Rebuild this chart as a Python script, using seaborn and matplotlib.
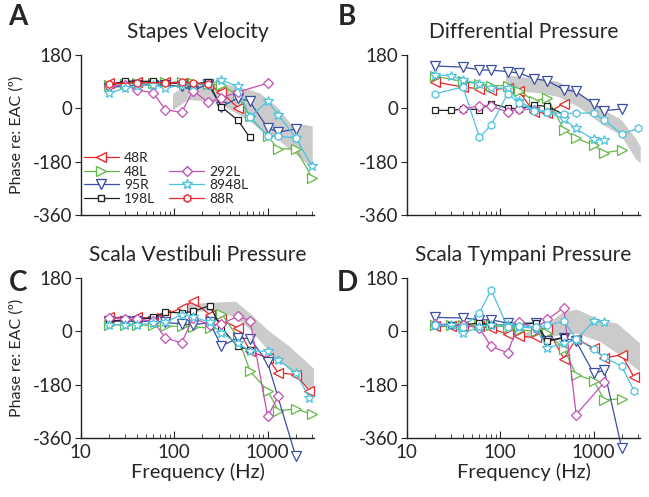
import matplotlib
matplotlib.use('Agg')
import matplotlib.pyplot as plt
from matplotlib.lines import Line2D
import seaborn as sns

sns.set_style('ticks')
plt.rcParams['font.family'] = ['Lato', 'DejaVu Sans']
plt.rcParams['axes.unicode_minus'] = False

# --- data (frequency in Hz, phase in degrees) ---
titles = ['Stapes Velocity', 'Differential Pressure',
          'Scala Vestibuli Pressure', 'Scala Tympani Pressure']
letters = ['A', 'B', 'C', 'D']
ear_names = ['48R', '48L', '95R', '198L', '292L', '8948L', '88R']

# A: stapes velocity
stapes = {
    '48R':   ([20, 40, 80, 120, 230, 320, 480], [85, 88, 88, 85, 80, 55, 2]),
    '48L':   ([20, 30, 40, 60, 80, 120, 160, 230, 320, 480, 640, 1000, 1300, 2000, 3000],
              [80, 83, 85, 85, 88, 88, 85, 83, 78, 45, -27, -94, -137, -137, -234]),
    '95R':   ([20, 30, 40, 60, 80, 120, 160, 230, 320, 480, 640, 1000, 1300, 2000],
              [70, 75, 78, 80, 78, 75, 60, 82, 5, 35, 24, -66, -80, -70]),
    '198L':  ([20, 30, 60, 80, 120, 160, 230, 320, 480, 640],
              [78, 92, 91, 85, 85, 82, 88, 5, -40, -97]),
    '292L':  ([20, 30, 40, 60, 80, 120, 160, 230, 320, 480, 1000],
              [75, 78, 62, 52, -4, -14, 60, 20, 35, 55, 85]),
    '8948L': ([20, 30, 40, 60, 80, 120, 160, 230, 320, 480, 640, 1000, 1300, 2000, 3000],
              [52, 68, 74, 80, 68, 78, 80, 80, 95, 74, -30, 24, -21, -100, -195]),
    '88R':   ([20, 40, 80, 120, 160, 230], [82, 87, 86, 88, 85, 82]),
    'extra': ([640, 1000, 1300, 2000], [-30, -92, -94, -100]),
}
stapes_band_f = [96, 140, 290, 430, 650, 825, 1240, 1740, 2600, 3000]
stapes_band_hi = [50, 85, 85, 78, 62, 52, 7, -50, -55, -60]
stapes_band_lo = [-5, 30, 20, -10, -44, -70, -100, -140, -185, -195]

# B: differential pressure
diff = {
    '48R':   ([20, 40, 60, 80, 120, 160, 230, 320, 480],
              [89, 72, 66, 63, 68, 57, -13, -16, 16]),
    '48L':   ([20, 40, 60, 80, 120, 160, 230, 320, 480, 640, 1000, 1300, 2000],
              [108, 91, 82, 76, 77, 60, 24, 35, -72, -100, -124, -150, -141]),
    '95R':   ([20, 40, 60, 80, 120, 160, 230, 320, 480, 640, 1000, 1300, 2000],
              [143, 139, 130, 129, 124, 119, 100, 93, 63, 57, 16, -8, -2]),
    '198L':  ([20, 30, 40, 60, 80, 120, 160, 230, 320, 480],
              [-7, -7, -2, -4, 16, 1, -2, 10, 7, -21]),
    '292L':  ([40, 60, 80, 120, 160, 230], [-2, 9, 7, -12, -2, -4]),
    '8948L': ([20, 30, 40, 60, 80, 120, 160, 230, 320, 480, 640, 1000, 1300],
              [113, 110, 96, 83, 68, 68, 24, -4, -13, -35, -68, -105, -108]),
    'extra': ([20, 40, 60, 80, 120, 160, 230, 320, 480, 640, 1000, 1300, 2000, 3000],
              [49, 72, -98, -57, 49, 18, -10, -13, -18, -16, -16, -40, -86, -68]),
}
diff_band_f = [114, 270, 415, 690, 1250, 1950, 2800, 3150]
diff_band_hi = [113, 100, 91, 52, -3, -37, -100, -128]
diff_band_lo = [63, 52, 40, 5, -55, -90, -170, -184]

# C: scala vestibuli pressure
vest = {
    '48R':   ([20, 40, 60, 80, 120, 160, 240, 320, 480, 650, 1000, 1300, 2000, 2800],
              [47, 47, 45, 55, 79, 101, 56, 40, 11, -67, -90, -140, -146, -200]),
    '48L':   ([20, 30, 40, 60, 80, 120, 160, 240, 320, 480, 650, 1000, 1300, 2000, 3000],
              [22, 22, 22, 20, 17, 17, 15, 11, 60, -20, -135, -200, -268, -262, -280]),
    '95R':   ([20, 30, 40, 60, 80, 120, 160, 240, 320, 480, 650, 1000, 2000],
              [34, 34, 34, 34, 30, 25, 22, 30, -50, -22, -25, -105, -422]),
    '198L':  ([20, 30, 40, 60, 80, 120, 160, 240, 320, 480, 650],
              [34, 39, 39, 47, 65, 62, 67, 87, 11, -51, -62]),
    '292L':  ([20, 30, 40, 60, 80, 120, 160, 240, 320, 480, 650, 1000, 1300],
              [45, 42, 40, 35, -22, -39, 45, 22, 25, 51, 36, -287, -219]),
    '8948L': ([20, 30, 40, 60, 80, 120, 160, 240, 320, 480, 650, 1000, 1300, 2000, 2800],
              [22, 22, 22, 27, 30, 56, 50, 30, -6, -40, -67, -67, -96, -140, -225]),
}
vest_band_f = [120, 240, 450, 650, 1000, 1700, 3100]
vest_band_hi = [92, 98, 102, 60, 5, -50, -125]
vest_band_lo = [65, 70, 50, 6, -62, -129, -205]

# D: scala tympani pressure
tymp = {
    '48R':   ([20, 30, 40, 60, 80, 120, 160, 240, 320, 480, 650, 1000, 1300, 2000, 2700],
              [17, 17, 17, 17, 10, -10, -17, -20, 8, -92, -25, -56, -90, -79, -155]),
    '48L':   ([20, 30, 40, 60, 80, 120, 160, 240, 320, 480, 650, 1000, 1300, 2000],
              [22, 22, 22, 20, 20, 15, 5, 0, -6, -58, -146, -166, -231, -228]),
    '95R':   ([20, 40, 60, 80, 120, 240, 320, 480, 650, 1000, 1300, 2000],
              [47, 45, 39, 39, 28, 28, -34, -22, -34, -141, -132, -395]),
    '198L':  ([20, 30, 40, 60, 80, 120, 160, 240, 320, 480],
              [22, 22, 22, 28, 22, 20, 22, 28, -32, -20]),
    '292L':  ([20, 40, 60, 80, 120, 160, 240, 320, 480, 650, 1300],
              [25, 22, 11, -51, -72, 30, 10, 40, 80, -281, -172]),
    '8948L': ([20, 30, 40, 60, 80, 120, 160, 240, 320, 480, 650, 1000, 1300],
              [22, 20, -6, 15, 20, 20, 15, 10, -56, -40, -30, 35, 30]),
    'extra': ([20, 40, 60, 80, 120, 160, 240, 320, 480, 650, 1000, 1300, 2000, 2700],
              [20, 15, 62, 140, 15, 18, 15, 20, 35, -25, -60, -88, -118, -200]),
}
tymp_band_f = [105, 180, 300, 470, 660, 1170, 1770, 3100]
tymp_band_hi = [-2, -5, 20, 67, 75, 39, 28, -39]
tymp_band_lo = [-8, -22, -20, -10, -6, -34, -73, -135]

panels = [stapes, diff, vest, tymp]
bands = [(stapes_band_f, stapes_band_lo, stapes_band_hi),
         (diff_band_f, diff_band_lo, diff_band_hi),
         (vest_band_f, vest_band_lo, vest_band_hi),
         (tymp_band_f, tymp_band_lo, tymp_band_hi)]

colors = {'48R': '#e8262c', '48L': '#62b946', '95R': '#3b4ea3', '198L': '#222222',
          '292L': '#c350b4', '8948L': '#4cc3de', '88R': '#e8262c', 'extra': '#4cc3de'}
markers = {'48R': '<', '48L': '>', '95R': 'v', '198L': 's', '292L': 'D',
           '8948L': '*', '88R': 'h', 'extra': 'h'}
msizes = {'48R': 6.5, '48L': 6.5, '95R': 6.5, '198L': 5, '292L': 5.5,
          '8948L': 7.5, '88R': 5.5, 'extra': 5.5}

# --- figure ---
W, H = 649, 497
fig = plt.figure(figsize=(6.49, 4.97), dpi=100)

x_left = [80.7, 406.7, 80.7, 406.7]
y_top = [55, 55, 278, 278]
axes = []
for i in range(4):
    ax = fig.add_axes([x_left[i] / W, 1 - (y_top[i] + 160) / H, 233.5 / W, 160 / H])
    axes.append(ax)

for i, ax in enumerate(axes):
    bf, blo, bhi = bands[i]
    ax.fill_between(bf, blo, bhi, color='#cbcbcb', linewidth=0, zorder=0)
    for name, (f, p) in panels[i].items():
        c = colors[name]
        sns.lineplot(x=f, y=p, ax=ax, color=c, marker=markers[name],
                     markersize=msizes[name], markerfacecolor='white',
                     markeredgecolor=c, markeredgewidth=0.9, linewidth=0.9,
                     errorbar=None, clip_on=False, legend=False)

    ax.set_xscale('log')
    ax.set_xlim(10, 3150)
    ax.set_ylim(-360, 180)
    ax.set_yticks([-360, -180, 0, 180])
    ax.set_yticklabels(['-360', '-180', '0', '180'])
    ax.set_xticks([10, 100, 1000])
    sns.despine(ax=ax)
    for s in ax.spines.values():
        s.set_linewidth(1.0)
        s.set_color('#222222')
    ax.tick_params(axis='y', direction='out', length=4, labelsize=13.5, pad=2)
    ax.tick_params(axis='x', which='major', direction='in', length=5, labelsize=13.5, pad=4)
    ax.tick_params(axis='x', which='minor', direction='in', length=3)
    if i < 2:
        ax.set_xticklabels([])
    else:
        ax.set_xticklabels(['10', '100', '1000'])
        ax.set_xlabel('Frequency (Hz)', fontsize=14.5, labelpad=2)
    if i % 2 == 0:
        ax.set_ylabel('Phase re: EAC (º)', fontsize=11.5)
        ax.yaxis.set_label_coords(-0.245, 0.5)
    ax.set_title(titles[i], fontsize=15, pad=12)

for i, ax in enumerate(axes):
    lx = [18, 347, 18, 347][i]
    ly = [17, 17, 283, 283][i]
    fig.text(lx / W, 1 - ly / H, letters[i], fontsize=20, fontweight='bold',
             ha='center', va='center')

# legend in panel A, second column starts one row lower
handles = []
for name in ear_names[:4]:
    handles.append(Line2D([], [], color=colors[name], marker=markers[name],
                          markersize=msizes[name], markerfacecolor='white',
                          markeredgecolor=colors[name], linewidth=0.9, label=name))
handles.append(Line2D([], [], linestyle='none', label=' '))
for name in ear_names[4:]:
    handles.append(Line2D([], [], color=colors[name], marker=markers[name],
                          markersize=msizes[name], markerfacecolor='white',
                          markeredgecolor=colors[name], linewidth=0.9, label=name))
axes[0].legend(handles=handles, ncol=2, frameon=False, fontsize=10,
               loc='upper left', bbox_to_anchor=(84 / W, 1 - 152 / H),
               bbox_transform=fig.transFigure, handlelength=2.5,
               handletextpad=0.4, columnspacing=1.0, labelspacing=0.12,
               borderpad=0, borderaxespad=0)

fig.savefig('out.png', dpi=100)
